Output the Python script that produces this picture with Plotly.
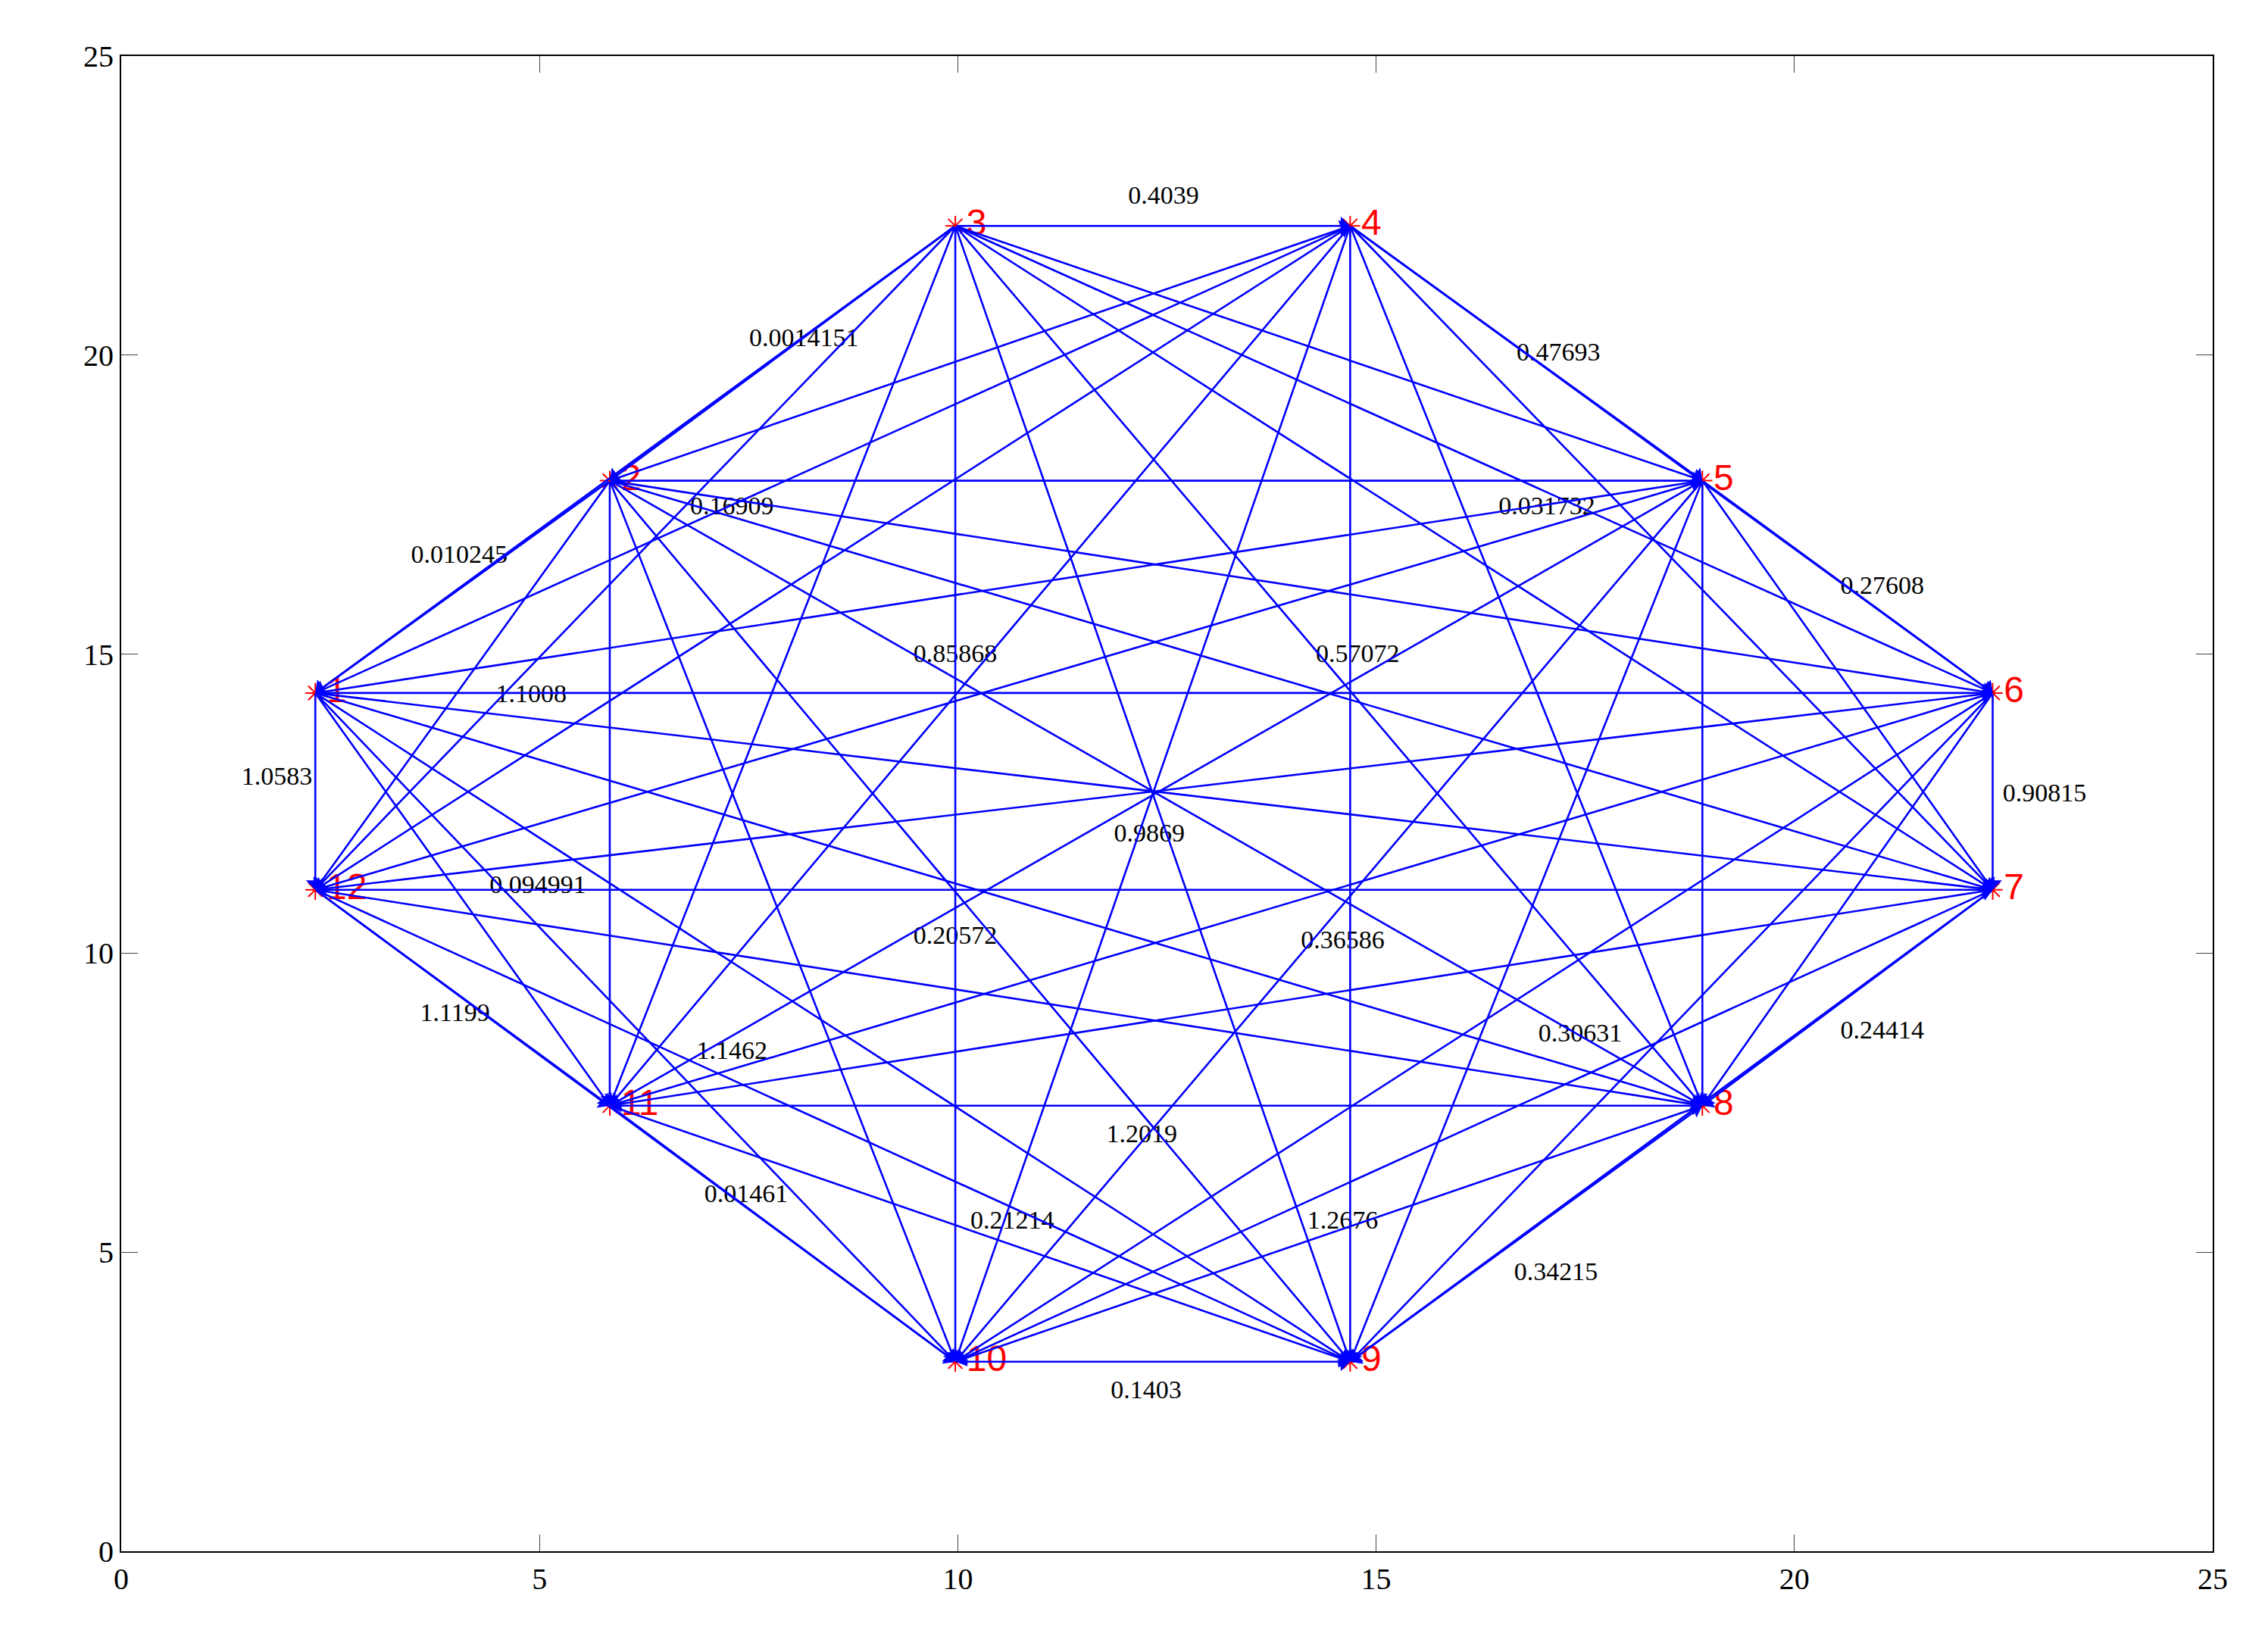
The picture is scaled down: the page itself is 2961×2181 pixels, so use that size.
import plotly.graph_objects as go

node_ids = [1,2,3,4,5,6,7,8,9,10,11,12]
node_x = [2.32,5.84,9.97,14.69,18.9,22.37,22.37,18.9,14.69,9.97,5.84,2.32]
node_y = [14.35,17.9,22.16,22.16,17.9,14.35,11.06,7.45,3.17,3.17,7.45,11.06]
# direction order: edges go from earlier to later in this order
order = [3,2,4,1,5,12,6,11,7,10,8,9]

lab_text = ["0.4039","0.0014151","0.47693","0.16909","0.031732","0.010245","0.27608",
            "0.85868","0.57072","1.1008","1.0583","0.90815","0.9869","0.094991","0.20572",
            "0.36586","1.1199","1.1462","0.30631","0.24414","1.2019","0.01461","0.21214",
            "1.2676","0.34215","0.1403"]
lab_x = [12.46,8.16,17.18,7.30,17.04,4.04,21.05,9.97,14.78,4.90,1.86,22.99,12.29,4.98,9.97,
         14.60,3.99,7.30,17.44,21.05,12.20,7.47,10.65,14.60,17.15,12.25]
lab_y = [22.64,20.26,20.02,17.45,17.45,16.63,16.11,14.98,14.98,14.30,12.93,12.64,11.97,11.11,
         10.26,10.19,8.97,8.34,8.63,8.68,6.95,5.94,5.50,5.50,4.64,2.67]

fig = go.Figure()
ann = []
rank = {n: i for i, n in enumerate(order)}
for i in range(12):
    for j in range(i+1, 12):
        a, b = node_ids[i], node_ids[j]
        s, t = (a, b) if rank[a] < rank[b] else (b, a)
        si, ti = node_ids.index(s), node_ids.index(t)
        ann.append(dict(x=node_x[ti], y=node_y[ti], ax=node_x[si], ay=node_y[si],
                        xref="x", yref="y", axref="x", ayref="y", showarrow=True,
                        arrowhead=1, arrowsize=1.6, arrowwidth=2.6, arrowcolor="#0000ff",
                        text=""))
fig.update_layout(annotations=ann)

fig.add_trace(go.Scatter(x=node_x, y=node_y, mode="markers+text",
                         marker=dict(symbol="asterisk-open", size=22, color="red",
                                     line=dict(color="red", width=2)),
                         text=[str(n) for n in node_ids], textposition="middle right",
                         textfont=dict(family="Liberation Sans", size=48, color="red"),
                         hoverinfo="skip"))
fig.add_trace(go.Scatter(x=lab_x, y=lab_y, mode="text", text=lab_text,
                         textfont=dict(family="Liberation Serif", size=34, color="black"),
                         hoverinfo="skip"))

ax = dict(range=[0, 25], tickvals=[0,5,10,15,20,25], ticks="inside", ticklen=22,
          mirror="allticks", showline=True, linecolor="black", linewidth=2,
          showgrid=False, zeroline=False,
          tickfont=dict(family="Liberation Serif", size=40, color="black"))
fig.update_xaxes(**ax)
fig.update_yaxes(**ax)
fig.update_layout(width=2961, height=2181, showlegend=False, plot_bgcolor="white",
                  paper_bgcolor="white", margin=dict(l=152, r=48, t=66, b=141))
fig.write_html("out.html")
